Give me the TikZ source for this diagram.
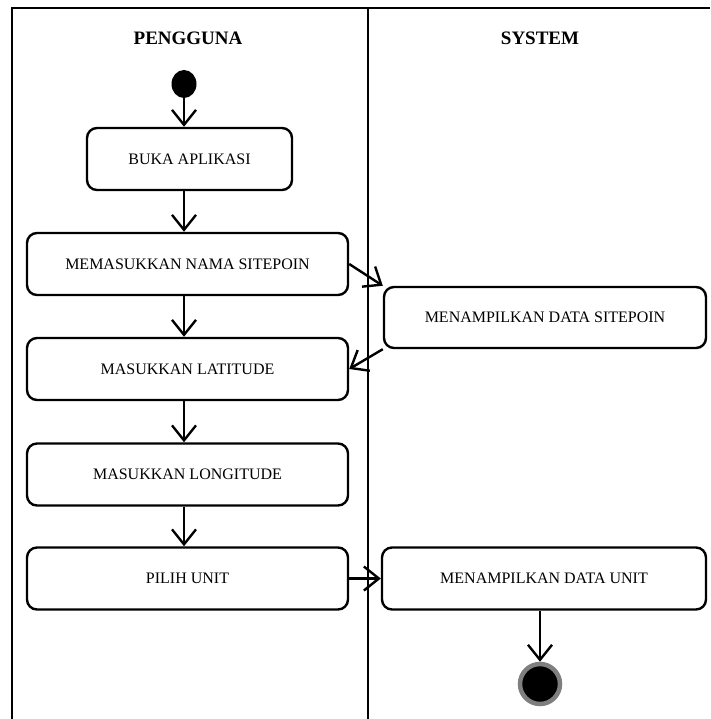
\documentclass[tikz,border=0pt]{standalone}
\usepackage{fontspec}
\setmainfont{Liberation Serif}
\usetikzlibrary{arrows.meta,shapes.geometric}
\definecolor{ringgray}{HTML}{7F7F7F}
\tikzset{
  lane/.style={line width=2.8pt},
  lanetitle/.style={font=\bfseries\fontsize{19}{22}\selectfont},
  activity/.style={draw, line width=2.4pt, rounded corners=10pt, inner sep=0pt,
    minimum height=62pt, align=center, font=\fontsize{16}{19}\selectfont},
  flow/.style={line width=2.4pt, -{Straight Barb[length=15pt, width=24pt]}},
  startdot/.style={ellipse, fill=black, inner sep=0pt, minimum width=25pt, minimum height=28pt},
  enddot/.style={circle, fill=black, draw=ringgray, line width=4.5pt, inner sep=0pt, minimum size=40pt}
}
\begin{document}
\begin{tikzpicture}[x=1pt, y=-1pt]
\useasboundingbox (0,0) rectangle (710,719);

% swimlane frame
\draw[lane] (12,719) -- (12,8) -- (710,8);
\draw[lane] (368,8) -- (368,719);
\node[lanetitle] (tuser) at (188,38) {PENGGUNA};
\node[lanetitle] (tsys) at (540,38) {SYSTEM};

% user lane
\node[startdot] (start) at (184,84) {};
\node[activity, minimum width=205pt] (buka) at (189.5,159) {BUKA APLIKASI};
\node[activity, minimum width=321pt] (nama) at (187.5,264) {MEMASUKKAN NAMA SITEPOIN};
\node[activity, minimum width=321pt] (lat) at (187.5,369) {MASUKKAN LATITUDE};
\node[activity, minimum width=321pt] (lon) at (187.5,474.5) {MASUKKAN LONGITUDE};
\node[activity, minimum width=321pt] (pilih) at (187.5,578.5) {PILIH UNIT};

% system lane
\node[activity, minimum width=322pt, minimum height=61pt] (dsite) at (545,317.5) {MENAMPILKAN DATA SITEPOIN};
\node[activity, minimum width=324pt] (dunit) at (544,578.5) {MENAMPILKAN DATA UNIT};
\node[enddot] (end) at (540,684) {};

% control flow
\draw[flow] (start) -- (start |- buka.north);
\draw[flow] (buka.south -| start) -- (nama.north -| start);
\draw[flow] (nama.south -| start) -- (lat.north -| start);
\draw[flow] (lat.south -| start) -- (lon.north -| start);
\draw[flow] (lon.south -| start) -- (pilih.north -| start);
\draw[flow] (nama.east) -- (dsite.north west);
\draw[flow] (dsite.south west) -- (lat.east);
\draw[flow] (pilih.east) -- (dunit.west);
\draw[flow] (dunit.south -| end) -- (end.north);
\end{tikzpicture}
\end{document}
